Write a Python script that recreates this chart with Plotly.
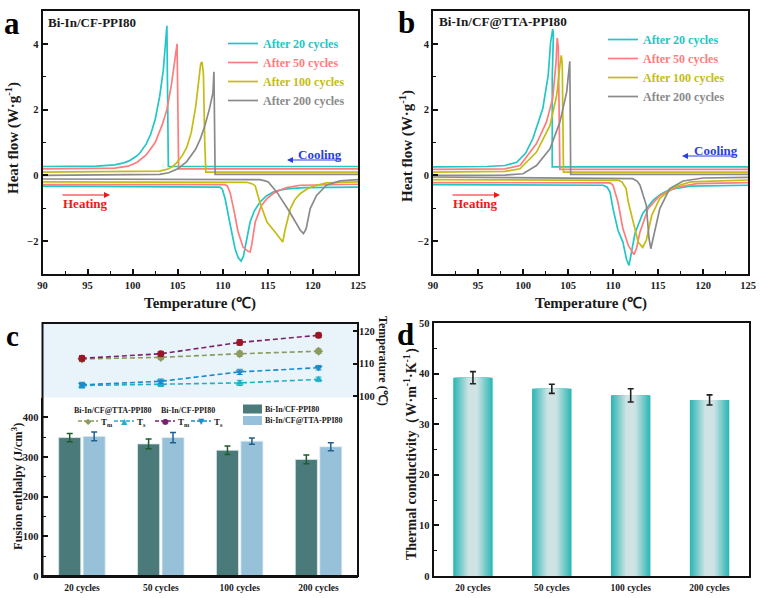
import plotly.graph_objects as go

W, H = 768, 598
SERIF = "Liberation Serif"

#colours of the four cycle counts
cycle_names = ["After 20 cycles", "After 50 cycles", "After 100 cycles", "After 200 cycles"]
cycle_colors = ["#22C6C6", "#FF7C7C", "#C4BC12", "#8A8A8A"]

#panel a, cooling curves
a_cool_20_x = [90, 96, 98, 99, 99.6, 100, 100.4, 100.8, 101.5, 102, 102.5, 103, 103.4, 103.7, 103.8, 103.96, 125]
a_cool_20_y = [0.27, 0.28, 0.32, 0.38, 0.44, 0.5, 0.58, 0.68, 0.95, 1.25, 1.7, 2.4, 3.2, 4.2, 4.55, 0.27, 0.27]
a_cool_50_x = [90, 98, 99.5, 100.5, 101.5, 102.5, 103.3, 103.8, 104.3, 104.7, 104.93, 105.1, 125]
a_cool_50_y = [0.2, 0.22, 0.28, 0.4, 0.62, 1.0, 1.55, 2.0, 2.75, 3.55, 4.0, 0.2, 0.2]
a_cool_100_x = [90, 102, 103, 104, 104.5, 105, 105.5, 106, 106.5, 107, 107.3, 107.55, 107.7, 107.85, 108, 108.12, 125]
a_cool_100_y = [0.1, 0.11, 0.13, 0.2, 0.28, 0.42, 0.6, 0.85, 1.3, 2.1, 2.9, 3.4, 3.45, 3.1, 1.0, 0.1, 0.1]
a_cool_200_x = [90, 103, 104, 105, 106, 107, 107.5, 108, 108.5, 108.9, 109.02, 109.15, 125]
a_cool_200_y = [0.0, 0.03, 0.08, 0.2, 0.42, 0.8, 1.1, 1.5, 2.0, 2.5, 3.15, 0.03, 0.03]

#panel a, heating curves
a_heat_20_x = [90, 109.4, 109.7, 109.95, 110.26, 110.8, 111.36, 111.7, 112.03, 112.3, 112.6, 113.03, 113.5, 114.14, 114.8, 115.6, 116.3, 117.1, 119, 125]
a_heat_20_y = [-0.33, -0.34, -0.36, -0.42, -0.71, -1.47, -2.23, -2.5, -2.61, -2.45, -2.0, -1.42, -1.08, -0.81, -0.63, -0.51, -0.45, -0.41, -0.37, -0.36]
a_heat_50_x = [90, 110.2, 110.5, 110.8, 111.2, 111.7, 112.25, 112.8, 113.03, 113.2, 113.6, 114.3, 115, 115.6, 116.3, 117.1, 118.6, 125]
a_heat_50_y = [-0.28, -0.28, -0.32, -0.51, -1.01, -1.72, -2.18, -2.31, -2.33, -2.13, -1.42, -0.91, -0.68, -0.55, -0.45, -0.37, -0.3, -0.27]
a_heat_100_x = [90, 112.66, 113.3, 113.6, 114.1, 114.9, 115.8, 116.65, 116.9, 117.5, 118, 118.6, 119.3, 120, 121.5, 125]
a_heat_100_y = [-0.2, -0.21, -0.26, -0.32, -0.81, -1.42, -1.72, -2.03, -1.67, -1.01, -0.73, -0.55, -0.42, -0.33, -0.23, -0.2]
a_heat_200_x = [90, 114.1, 114.6, 115.05, 116, 117.3, 118.6, 118.95, 119.25, 119.7, 120.4, 121.5, 123, 125]
a_heat_200_y = [-0.11, -0.13, -0.16, -0.2, -0.51, -1.06, -1.67, -1.77, -1.62, -1.01, -0.61, -0.3, -0.17, -0.13]

#panel b, cooling curves
b_cool_20_x = [90, 96, 98, 99.3, 100.3, 101.1, 102.2, 102.8, 103.07, 103.3, 103.38, 103.25, 103.25, 125]
b_cool_20_y = [0.26, 0.27, 0.3, 0.4, 0.68, 1.12, 2.03, 3.04, 4.05, 4.45, 4.3, 3.0, 0.26, 0.26]
b_cool_50_x = [90, 98, 99.67, 101.5, 102.6, 103.3, 103.67, 103.8, 103.92, 104.1, 125]
b_cool_50_y = [0.18, 0.2, 0.3, 0.97, 1.62, 2.34, 3.44, 4.18, 3.9, 0.18, 0.18]
b_cool_100_x = [90, 98, 99.67, 101.5, 103, 103.74, 104.1, 104.25, 104.36, 104.5, 125]
b_cool_100_y = [0.1, 0.12, 0.2, 0.71, 1.52, 2.43, 3.34, 3.65, 3.4, 0.1, 0.1]
b_cool_200_x = [90, 98, 100, 101.5, 103, 104.1, 104.85, 105.2, 105.3, 125]
b_cool_200_y = [0.0, 0.01, 0.05, 0.3, 0.81, 1.62, 2.53, 3.47, 0.03, 0.03]

#panel b, heating curves
b_heat_20_x = [90, 108.9, 109.35, 109.67, 110, 110.55, 111.1, 111.5, 111.78, 112.08, 112.44, 113.3, 114.45, 115.3, 116.3, 118.6, 125]
b_heat_20_y = [-0.28, -0.3, -0.36, -0.51, -1.01, -1.67, -2.03, -2.55, -2.74, -2.33, -1.77, -1.16, -0.76, -0.57, -0.43, -0.33, -0.3]
b_heat_50_x = [90, 109.7, 110, 110.55, 111.1, 111.7, 112.33, 112.6, 113, 113.9, 115.2, 117.1, 119.3, 125]
b_heat_50_y = [-0.22, -0.23, -0.3, -0.81, -1.62, -2.13, -2.41, -2.23, -1.72, -1.01, -0.61, -0.36, -0.25, -0.22]
b_heat_100_x = [90, 110.6, 111, 111.45, 111.7, 112.3, 112.8, 113.3, 113.7, 114.3, 115.2, 116.7, 118.6, 125]
b_heat_100_y = [-0.13, -0.15, -0.2, -0.4, -0.81, -1.52, -2.03, -2.19, -1.97, -1.22, -0.7, -0.36, -0.2, -0.14]
b_heat_200_x = [90, 112.2, 112.7, 113, 113.7, 114, 114.2, 114.45, 115.2, 116.3, 117.8, 120, 125]
b_heat_200_y = [-0.05, -0.1, -0.18, -0.3, -0.91, -1.92, -2.23, -1.92, -1.01, -0.4, -0.17, -0.08, -0.06]

#panel c
cycle_labels = ["20 cycles", "50 cycles", "100 cycles", "200 cycles"]
enthalpy_cf = [349, 333, 317, 294]
enthalpy_cf_err = [10.5, 12.5, 11, 11]
enthalpy_tta = [352, 349, 340, 326]
enthalpy_tta_err = [11, 13, 8, 10]
tm_cf = [111.7, 113.1, 116.6, 118.8]
tm_tta = [111.5, 112.0, 113.1, 113.9]
ts_cf = [103.5, 104.6, 107.5, 108.8]
ts_tta = [103.3, 103.7, 104.1, 105.2]
temp_err = [0.8, 0.7, 0.8, 0.7]

#panel d
conductivity = [39.2, 37.0, 35.7, 34.8]
conductivity_err = [1.2, 0.9, 1.3, 1.0]


def px_x(p):
    return p / W


def px_y(p):
    return 1 - p / H


fig = go.Figure()


def bold(size, color="#1a1a1a"):
    return dict(family=SERIF, size=size, color=color, weight=700)


def note(text, x, y, size=11, color="#1a1a1a", xanchor="left", **kw):
    fig.add_annotation(text=text, x=px_x(x), y=px_y(y), xref="paper", yref="paper", showarrow=False,
                       xanchor=xanchor, yanchor="middle", font=bold(size, color), **kw)


def arrow(x0, x1, y, color):
    fig.add_annotation(x=px_x(x1), y=px_y(y), ax=x0 - x1, ay=0, xref="paper", yref="paper",
                       axref="pixel", ayref="pixel", text="", showarrow=True, arrowhead=2, arrowsize=1,
                       arrowwidth=1.2, arrowcolor=color)


def frame_axis(domain, **kw):
    return dict(domain=domain, showline=True, linecolor="#111", linewidth=2, mirror=True, automargin=False,
                tickfont=bold(10.5), ticks="inside", ticklen=5, tickwidth=1.5, tickcolor="#111",
                showgrid=False, zeroline=False, **kw)


#the two heat flow panels
panel_a = [
    (a_cool_20_x, a_cool_20_y, a_heat_20_x, a_heat_20_y),
    (a_cool_50_x, a_cool_50_y, a_heat_50_x, a_heat_50_y),
    (a_cool_100_x, a_cool_100_y, a_heat_100_x, a_heat_100_y),
    (a_cool_200_x, a_cool_200_y, a_heat_200_x, a_heat_200_y),
]
panel_b = [
    (b_cool_20_x, b_cool_20_y, b_heat_20_x, b_heat_20_y),
    (b_cool_50_x, b_cool_50_y, b_heat_50_x, b_heat_50_y),
    (b_cool_100_x, b_cool_100_y, b_heat_100_x, b_heat_100_y),
    (b_cool_200_x, b_cool_200_y, b_heat_200_x, b_heat_200_y),
]

for panel, ax_x, ax_y, leg in [(panel_a, "x", "y", "legend"), (panel_b, "x2", "y2", "legend2")]:
    for i, (cx, cy, hx, hy) in enumerate(panel):
        col = cycle_colors[i]
        fig.add_trace(go.Scatter(x=cx, y=cy, mode="lines", xaxis=ax_x, yaxis=ax_y, legend=leg,
                                 legendgroup=leg + str(i),
                                 name='<span style="color:%s">%s</span>' % (col, cycle_names[i]),
                                 line=dict(color=col, width=1.7)))
        fig.add_trace(go.Scatter(x=hx, y=hy, mode="lines", xaxis=ax_x, yaxis=ax_y, showlegend=False,
                                 line=dict(color=col, width=1.7)))

#panel c bars
fig.add_trace(go.Bar(x=cycle_labels, y=enthalpy_cf, xaxis="x3", yaxis="y3", width=0.28, offset=-0.295,
                     marker=dict(color="#4A7B7A", line=dict(color="#DDE8E8", width=0.8)), showlegend=False,
                     error_y=dict(type="data", array=enthalpy_cf_err, color="#1E5B2C", thickness=1.5, width=3)))
fig.add_trace(go.Bar(x=cycle_labels, y=enthalpy_tta, xaxis="x3", yaxis="y3", width=0.28, offset=0.015,
                     marker=dict(color="#96C1D9", line=dict(color="#E3EEF4", width=0.8)), showlegend=False,
                     error_y=dict(type="data", array=enthalpy_tta_err, color="#1F5F92", thickness=1.5, width=3)))

#panel c temperatures
temp_series = [
    (tm_tta, "#8C9A5B", "#8C9A5B", "diamond"),
    (ts_tta, "#1FB0C8", "#1FB0C8", "triangle-up"),
    (tm_cf, "#7A1F6E", "#9B1526", "circle"),
    (ts_cf, "#1A8ACB", "#1A8ACB", "triangle-down"),
]
for vals, line_col, mark_col, sym in temp_series:
    fig.add_trace(go.Scatter(x=cycle_labels, y=vals, xaxis="x4", yaxis="y4", mode="lines+markers", showlegend=False,
                             line=dict(color=line_col, width=1.6, dash="5px,3px"),
                             marker=dict(color=mark_col, symbol=sym, size=7),
                             error_y=dict(type="data", array=temp_err, color=mark_col, thickness=1, width=3)))

#panel d, the gradient is a stack of narrowing bars
steps = 14
edge, centre = (47, 184, 181), (207, 227, 229)
for s in range(steps):
    t = min(1, s / (steps - 1) * 1.25)
    col = "rgb(%d,%d,%d)" % tuple(edge[k] + (centre[k] - edge[k]) * t for k in range(3))
    fig.add_trace(go.Bar(x=cycle_labels, y=conductivity, xaxis="x5", yaxis="y5", showlegend=False,
                         width=0.5 * (1 - s / steps), marker=dict(color=col, line=dict(width=0))))
fig.add_trace(go.Scatter(x=cycle_labels, y=conductivity, xaxis="x5", yaxis="y5", mode="markers", showlegend=False,
                         marker=dict(opacity=0, size=1),
                         error_y=dict(type="data", array=conductivity_err, color="#222", thickness=1.6, width=3)))

heat_x = dict(range=[90, 125], dtick=5, tick0=90, minor=dict(dtick=2.5, ticks="inside", ticklen=3, tickwidth=1.2, tickcolor="#111"))
heat_y = dict(range=[-3, 5], tickvals=[-2, 0, 2, 4], minor=dict(dtick=1, ticks="inside", ticklen=3, tickwidth=1.2, tickcolor="#111"))
top_dom = [px_y(274), px_y(11)]

fig.update_layout(
    width=W, height=H, margin=dict(l=0, r=0, t=0, b=0), paper_bgcolor="white", plot_bgcolor="white",
    barmode="overlay", showlegend=True,
    xaxis=frame_axis([px_x(42.5), px_x(358)], anchor="y", **heat_x),
    yaxis=frame_axis(top_dom, anchor="x", **heat_y),
    xaxis2=frame_axis([px_x(433), px_x(748)], anchor="y2", **heat_x),
    yaxis2=frame_axis(top_dom, anchor="x2", **heat_y),
    xaxis3=dict(domain=[px_x(42.5), px_x(358)], anchor="y3", range=[-0.5, 3.5], type="category", automargin=False,
                showline=True, linecolor="#111", linewidth=2, showgrid=False, ticks="", tickfont=bold(9.5), ticklabelstandoff=2),
    yaxis3=dict(domain=[px_y(576), px_y(397.5)], anchor="x3", range=[0, 450], tickvals=[0, 100, 200, 300, 400], automargin=False,
                showline=True, linecolor="#111", linewidth=2, showgrid=False, ticks="inside", ticklen=5, tickwidth=1.5,
                tickcolor="#111", tickfont=bold(10.5),
                minor=dict(dtick=50, ticks="inside", ticklen=3, tickwidth=1.2, tickcolor="#111")),
    xaxis4=dict(domain=[px_x(42.5), px_x(358)], anchor="y4", range=[-0.5, 3.5], type="category", visible=False),
    yaxis4=dict(domain=[px_y(397.5), px_y(323)], anchor="x4", side="right", range=[99.6, 122.6], automargin=False,
                tickvals=[100, 110, 120], showgrid=False, zeroline=False, ticks="inside", ticklen=5, tickwidth=1.5,
                tickcolor="#111", tickfont=bold(10.5)),
    xaxis5=dict(domain=[px_x(433.5), px_x(749)], anchor="y5", range=[-0.5, 3.5], type="category", automargin=False,
                showline=True, linecolor="#111", linewidth=2, mirror=True, showgrid=False, ticks="", tickfont=bold(9.5), ticklabelstandoff=2),
    yaxis5=dict(domain=[px_y(576), px_y(323)], anchor="x5", range=[0, 50], dtick=10, automargin=False,
                showline=True, linecolor="#111", linewidth=2, mirror=True, showgrid=False, zeroline=False,
                ticks="inside", ticklen=5, tickwidth=1.5, tickcolor="#111", tickfont=bold(10.5),
                minor=dict(dtick=5, ticks="inside", ticklen=3, tickwidth=1.2, tickcolor="#111")),
    legend=dict(x=px_x(223), y=px_y(29), xanchor="left", yanchor="top", font=bold(12), bgcolor="rgba(0,0,0,0)",
                itemwidth=30, tracegroupgap=2, traceorder="normal"),
    legend2=dict(x=px_x(603), y=px_y(25), xanchor="left", yanchor="top", font=bold(12), bgcolor="rgba(0,0,0,0)",
                 itemwidth=30, tracegroupgap=2, traceorder="normal"),
)

#blue band and frame of panel c
fig.add_shape(type="rect", xref="paper", yref="paper", x0=px_x(42.5), x1=px_x(358), y0=px_y(397.5), y1=px_y(323),
              fillcolor="#E8F4FA", line_width=0, layer="below")
fig.add_shape(type="rect", xref="paper", yref="paper", x0=px_x(42.5), x1=px_x(358), y0=px_y(576), y1=px_y(323),
              line=dict(color="#111", width=2), layer="above")

#panel letters and labels
note("a", 2, 24, size=31, color="#000")
note("b", 396, 23, size=31, color="#000")
note("c", 4, 336, size=29, color="#000")
note("d", 395, 334, size=31, color="#000")
note("Bi-In/CF-PPI80", 46, 23, size=13)
note("Bi-In/CF@TTA-PPI80", 437, 22, size=13.2)

#axis titles
note("Temperature (℃)", 200, 303, size=15, xanchor="center")
note("Temperature (℃)", 591, 303, size=15, xanchor="center")
note("Heat flow (W·g<sup>-1</sup>)", 12, 138, size=15, xanchor="center", textangle=-90)
note("Heat flow (W·g<sup>-1</sup>)", 406, 146, size=15, xanchor="center", textangle=-90)
note("Fusion enthalpy (J/cm<sup>3</sup>)", 17, 487, size=12.5, xanchor="center", textangle=-90)
note("Temperature (℃)", 383, 361, size=12, xanchor="center", textangle=90)
note("Thermal conductivity（W·m<sup>-1</sup>·K<sup>-1</sup>）", 410, 450, size=14, xanchor="center", textangle=-90)

for cx, cy, hx, hy, ax0 in [(296, 154, 61, 203, 341), (692, 150, 451, 203, 736)]:
    note("Cooling", cx, cy, size=13, color="#2A3FE0")
    arrow(ax0, ax0 - 54, cy + 6, "#2A3FE0")
    note("Heating", hx, hy, size=13, color="#F01818")
    arrow(hx, hx + 49, 195, "#F01818")

#legend of panel c
note("Bi-In/CF@TTA-PPI80", 72, 410, size=8)
note("Bi-In/CF-PPI80", 159, 410, size=8)
for x0, col, glyph, txt in [(78, "#8C9A5B", "◆", "T<sub>m</sub>"), (114, "#1FB0C8", "▲", "T<sub>s</sub>"),
                            (155, "#7A1F6E", "●", "T<sub>m</sub>"), (191, "#1A8ACB", "▼", "T<sub>s</sub>")]:
    fig.add_shape(type="line", xref="paper", yref="paper", x0=px_x(x0), x1=px_x(x0 + 20), y0=px_y(421), y1=px_y(421),
                  line=dict(color=col, width=1.6, dash="4px,2px"))
    fig.add_annotation(text=glyph, x=px_x(x0 + 10), y=px_y(421), xref="paper", yref="paper", showarrow=False,
                       xanchor="center", yanchor="middle", font=dict(family="DejaVu Sans", size=8, color=col))
    note(txt, x0 + 21, 422, size=9)

for y0, col, txt in [(409, "#4A7B7A", "Bi-In/CF-PPI80"), (420.5, "#96C1D9", "Bi-In/CF@TTA-PPI80")]:
    fig.add_shape(type="rect", xref="paper", yref="paper", x0=px_x(243), x1=px_x(262), y0=px_y(y0 - 4.5), y1=px_y(y0 + 4.5),
                  fillcolor=col, line_width=0)
    note(txt, 263, y0, size=8)

fig.write_html("out.html", post_script="document.body.style.margin='0';", config=dict(displayModeBar=False))
